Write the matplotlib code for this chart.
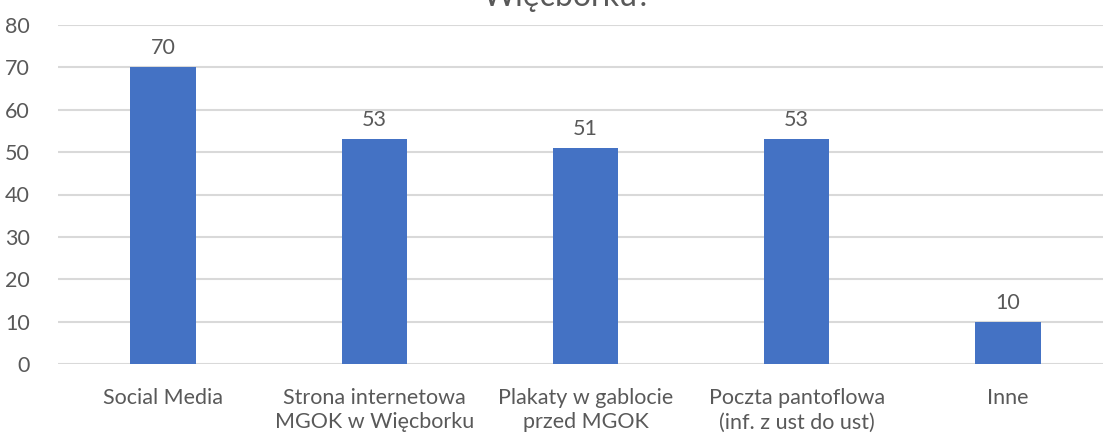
import matplotlib
matplotlib.use("Agg")
import matplotlib.pyplot as plt

categories = ["Social Media", "Strona internetowa\nMGOK w Więcborku", "Plakaty w gablocie\nprzed MGOK",
              "Poczta pantoflowa\n(inf. z ust do ust)", "Inne"]
values = [70, 53, 51, 53, 10]
yticks = [0, 10, 20, 30, 40, 50, 60, 70, 80]
title_visible = "Więcborku?"

W, H = 1103, 438
plt.rcParams['font.family'] = ['Lato', 'DejaVu Sans']
fig = plt.figure(figsize=(W / 100, H / 100), dpi=100)
left_px, right_px = 57.5, 1103
y0_px, y80_px = 364, 25
ax = fig.add_axes([left_px / W, (H - y0_px) / H, (right_px - left_px) / W, (y0_px - y80_px) / H])
text_col = "#595959"
grid_col = "#d9d9d9"
fs = 15.5

x = list(range(len(categories)))
ax.bar(x, values, width=0.31, color="#4472C4", zorder=3)
ax.set_xlim(-0.5, 4.5 - (1113.5 - 1103) / 211)
ax.set_ylim(0, 80)
ax.set_yticks(yticks)
ax.set_yticklabels([str(t) for t in yticks])
ax.set_xticks(x)
ax.set_xticklabels(categories, linespacing=1.3)
ax.tick_params(axis='both', length=0, colors=text_col, labelsize=fs)
ax.tick_params(axis='y', pad=20)
ax.tick_params(axis='x', pad=17)
for lab in ax.get_xticklabels():
    lab.set_va('top')
ax.yaxis.grid(True, color=grid_col, linewidth=1.5, zorder=0)
for s in ax.spines.values():
    s.set_visible(False)
for xi, v in zip(x, values):
    ax.annotate(str(v), (xi, v), xytext=(0, 6.5), textcoords='offset points', ha='center', va='bottom',
                color=text_col, fontsize=fs)
fig.text(567 / W, 1 - 6 / H, title_visible, ha='center', va='baseline', color=text_col, fontsize=23)
fig.savefig("out.png", dpi=100)
